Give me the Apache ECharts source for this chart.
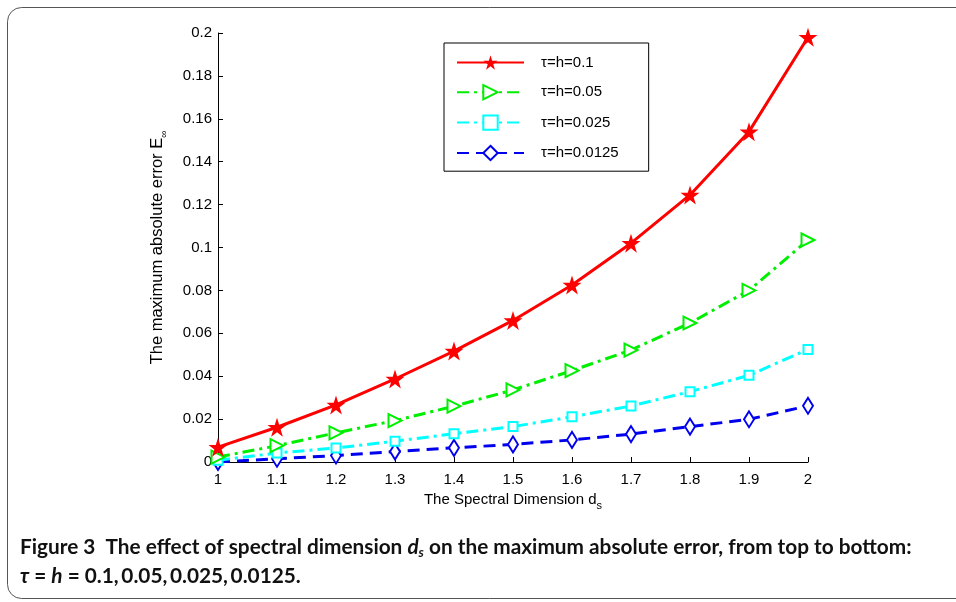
<!DOCTYPE html>
<html>
<head>
<meta charset="utf-8">
<script src="https://cdn.jsdelivr.net/npm/echarts@6/dist/echarts.min.js"></script>
<style>
  html, body { margin: 0; padding: 0; background: #fff; }
  #main { width: 956px; height: 602px; }
</style>
</head>
<body>
<div id="main"></div>
<script>
// spectral dimension d_s
var dsValues = [1, 1.1, 1.2, 1.3, 1.4, 1.5, 1.6, 1.7, 1.8, 1.9, 2];
// max abs error for each tau=h
var err01 = [0.0069, 0.0162, 0.0266, 0.0387, 0.0517, 0.066, 0.0825, 0.102, 0.1245, 0.154, 0.198];
var err005 = [0.0023, 0.0076, 0.0136, 0.0193, 0.026, 0.0336, 0.0426, 0.0522, 0.0648, 0.080, 0.1035];
var err0025 = [0.0008, 0.0042, 0.0065, 0.0097, 0.0132, 0.0165, 0.0211, 0.0261, 0.0328, 0.0404, 0.0525];
var err00125 = [0.0, 0.0015, 0.003, 0.0049, 0.0066, 0.0082, 0.0103, 0.013, 0.0165, 0.0199, 0.0262];
var seriesNames = ['τ=h=0.1', 'τ=h=0.05', 'τ=h=0.025', 'τ=h=0.0125'];

function pairs(ys) {
    return dsValues.map(function (x, i) { return [x, ys[i]]; });
}

var starPath = 'path://M50,0 L61.8,36.2 L100,36.2 L69.1,58.6 L80.9,95.1 L50,72.7 L19.1,95.1 L30.9,58.6 L0,36.2 L38.2,36.2 Z';
var fmt = function (v) { return String(+v.toFixed(2)); };
var font = 'Liberation Sans, Arial, sans-serif';

var chart = echarts.init(document.getElementById('main'));
chart.setOption({
    animation: false,
    textStyle: { fontFamily: font },
    grid: { left: 218, right: 148, top: 33, bottom: 140 },
    legend: {
        orient: 'vertical',
        left: 444,
        top: 43,
        padding: [12, 30, 10, 12],
        borderColor: '#000',
        borderWidth: 1,
        itemWidth: 67,
        itemHeight: 18,
        itemGap: 14,
        textStyle: { fontSize: 15, color: '#000', fontFamily: font, padding: [0, 0, 0, 12] },
        data: seriesNames
    },
    xAxis: {
        type: 'value',
        min: 1,
        max: 2,
        interval: 0.1,
        name: 'The Spectral Dimension d{sub|s}',
        nameLocation: 'middle',
        nameGap: 24,
        nameTextStyle: {
            fontSize: 15, color: '#000', fontFamily: font,
            rich: { sub: { fontSize: 11, fontFamily: font, verticalAlign: 'bottom', padding: [14, 0, 0, 0] } }
        },
        axisLine: { lineStyle: { color: '#000', width: 1 } },
        axisTick: { inside: true, length: 5, lineStyle: { color: '#000' } },
        axisLabel: { fontSize: 15, color: '#000', fontFamily: font, margin: 10, formatter: fmt },
        splitLine: { show: false }
    },
    yAxis: {
        type: 'value',
        min: 0,
        max: 0.2,
        interval: 0.02,
        name: 'The maximum absolute error E{sub|∞}',
        nameLocation: 'middle',
        nameGap: 49,
        nameTextStyle: {
            fontSize: 16.5, color: '#000', fontFamily: font,
            rich: { sub: { fontSize: 10, fontFamily: font, verticalAlign: 'bottom', padding: [13, 0, 0, 0] } }
        },
        axisLine: { show: true, lineStyle: { color: '#000', width: 1 } },
        axisTick: { show: true, inside: true, length: 5, lineStyle: { color: '#000' } },
        axisLabel: { fontSize: 15, color: '#000', fontFamily: font, margin: 6, formatter: fmt },
        splitLine: { show: false }
    },
    series: [
        {
            name: seriesNames[0],
            type: 'line',
            data: pairs(err01),
            symbol: starPath,
            symbolSize: 19,
            lineStyle: { color: '#ff0000', width: 3 },
            itemStyle: { color: '#ff0000' },
            z: 5
        },
        {
            name: seriesNames[1],
            type: 'line',
            data: pairs(err005),
            symbol: 'emptyTriangle',
            symbolRotate: -90,
            symbolSize: 13,
            lineStyle: { color: '#00ee00', width: 3, type: [12, 5, 3, 5] },
            itemStyle: { color: '#00ee00', borderColor: '#00ee00', borderWidth: 2.5 },
            z: 4
        },
        {
            name: seriesNames[2],
            type: 'line',
            data: pairs(err0025),
            symbol: 'emptyRect',
            symbolSize: 9,
            lineStyle: { color: '#00ffff', width: 3, type: [12, 5, 3, 5] },
            itemStyle: { color: '#00ffff', borderColor: '#00ffff', borderWidth: 2.5 },
            z: 3
        },
        {
            name: seriesNames[3],
            type: 'line',
            data: pairs(err00125),
            symbol: 'emptyDiamond',
            symbolSize: [10, 16],
            lineStyle: { color: '#0000ee', width: 3, type: [12, 7] },
            itemStyle: { color: '#0000ee', borderColor: '#0000ee', borderWidth: 2.5 },
            z: 2
        }
    ],
    graphic: [
        {
            type: 'rect',
            shape: { x: 7.5, y: 7.5, width: 980, height: 591, r: 14 },
            style: { fill: 'none', stroke: '#555', lineWidth: 1 },
            silent: true
        },
        {
            type: 'text',
            left: 20,
            top: 537,
            style: {
                text: 'Figure 3  The effect of spectral dimension {i|d}{isub|s} on the maximum absolute error, from top to bottom:',
                fontFamily: 'Lato, Open Sans, sans-serif',
                fontWeight: 'bold',
                fontSize: 20.8,
                fill: '#111',
                rich: {
                    i: { fontStyle: 'italic', fontWeight: 'bold', fontSize: 20.8, fontFamily: 'Lato' },
                    isub: { fontStyle: 'italic', fontWeight: 'bold', fontSize: 13, fontFamily: 'Lato', padding: [11, 0, 0, 0] }
                }
            }
        },
        {
            type: 'text',
            left: 20,
            top: 566,
            style: {
                text: '{i|τ} = {i|h} = 0.1,\u20090.05,\u20090.025,\u20090.0125.',
                fontFamily: 'Lato, Open Sans, sans-serif',
                fontWeight: 'bold',
                fontSize: 20.8,
                fill: '#111',
                rich: {
                    i: { fontStyle: 'italic', fontWeight: 'bold', fontSize: 20.8, fontFamily: 'Lato' }
                }
            }
        }
    ]
});
</script>
</body>
</html>
